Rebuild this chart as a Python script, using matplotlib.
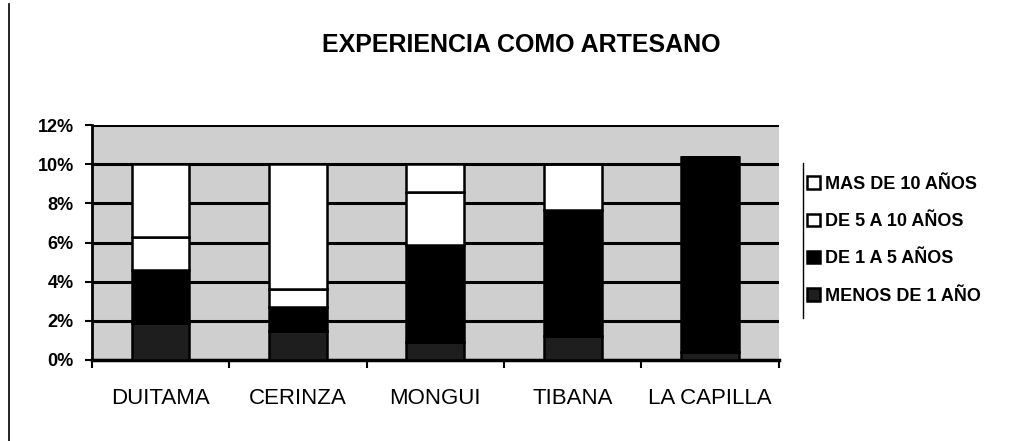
import numpy as np
import matplotlib
matplotlib.use('Agg')
import matplotlib.pyplot as plt
from matplotlib.lines import Line2D
from matplotlib.ticker import FuncFormatter

plt.rcParams['font.family'] = ['Liberation Sans', 'DejaVu Sans']

# datos (porcentaje)
municipios = ['DUITAMA', 'CERINZA', 'MONGUI', 'TIBANA', 'LA CAPILLA']
menos_1 = [1.9, 1.5, 0.9, 1.2, 0.4]
de_1_a_5 = [2.7, 1.2, 4.95, 6.45, 10.0]
de_5_a_10 = [1.7, 0.9, 2.75, 2.35, 0.0]
mas_10 = [3.7, 6.4, 1.4, 0.0, 0.0]

series = [
    ('MENOS DE 1 AÑO', menos_1, '#1e1e1e'),
    ('DE 1 A 5 AÑOS', de_1_a_5, '#000000'),
    ('DE 5 A 10 AÑOS', de_5_a_10, '#ffffff'),
    ('MAS DE 10 AÑOS', mas_10, '#ffffff'),
]

fig = plt.figure(figsize=(10.10, 4.41), dpi=100)
ax = fig.add_axes([0.091, 0.184, 0.680, 0.532])
ax.set_facecolor('#cfcfcf')

x = np.arange(len(municipios))
base = np.zeros(len(municipios))
handles = []
for nombre, vals, color in series:
    b = ax.bar(x, vals, width=0.42, bottom=base, color=color,
               edgecolor='black', linewidth=1.8, label=nombre, zorder=3)
    handles.append(b)
    base = base + np.array(vals)

ax.set_xlim(-0.5, len(municipios) - 0.5)
ax.set_ylim(0, 12)
ax.set_yticks(np.arange(0, 13, 2))
ax.yaxis.set_major_formatter(FuncFormatter(lambda v, p: f'{v:.0f}%'))
ax.yaxis.grid(True, color='black', linewidth=2.2, zorder=1)
ax.set_axisbelow(True)

ax.set_xticks(x)
ax.set_xticklabels(municipios, fontsize=16)
ax.set_xticks(np.arange(-0.5, len(municipios), 1), minor=True)
ax.tick_params(axis='x', which='major', length=0, pad=20)
ax.tick_params(axis='x', which='minor', length=6, width=1.5, direction='out')
ax.tick_params(axis='y', labelsize=13, length=5, width=1.5, pad=8)
for lab in ax.get_yticklabels():
    lab.set_fontweight('bold')

for s in ['top', 'right']:
    ax.spines[s].set_visible(False)
ax.spines['left'].set_linewidth(2)
ax.spines['bottom'].set_linewidth(2.5)

fig.text(0.516, 0.898, 'EXPERIENCIA COMO ARTESANO', ha='center', va='center',
         fontsize=18, fontweight='bold')

ley = fig.legend(handles[::-1], [s[0] for s in series][::-1],
                 loc='center left', bbox_to_anchor=(0.792, 0.455),
                 frameon=False, handlelength=0.7, handleheight=0.7,
                 handletextpad=0.3, labelspacing=1.12, borderaxespad=0,
                 prop={'size': 13, 'weight': 'bold'})

# borde izquierdo de la leyenda y del grafico
fig.add_artist(Line2D([0.795, 0.795], [0.28, 0.63], color='black', linewidth=1))
fig.add_artist(Line2D([0.009, 0.009], [0.0, 0.99], color='black', linewidth=1.2))

plt.savefig('out.png', dpi=100)
